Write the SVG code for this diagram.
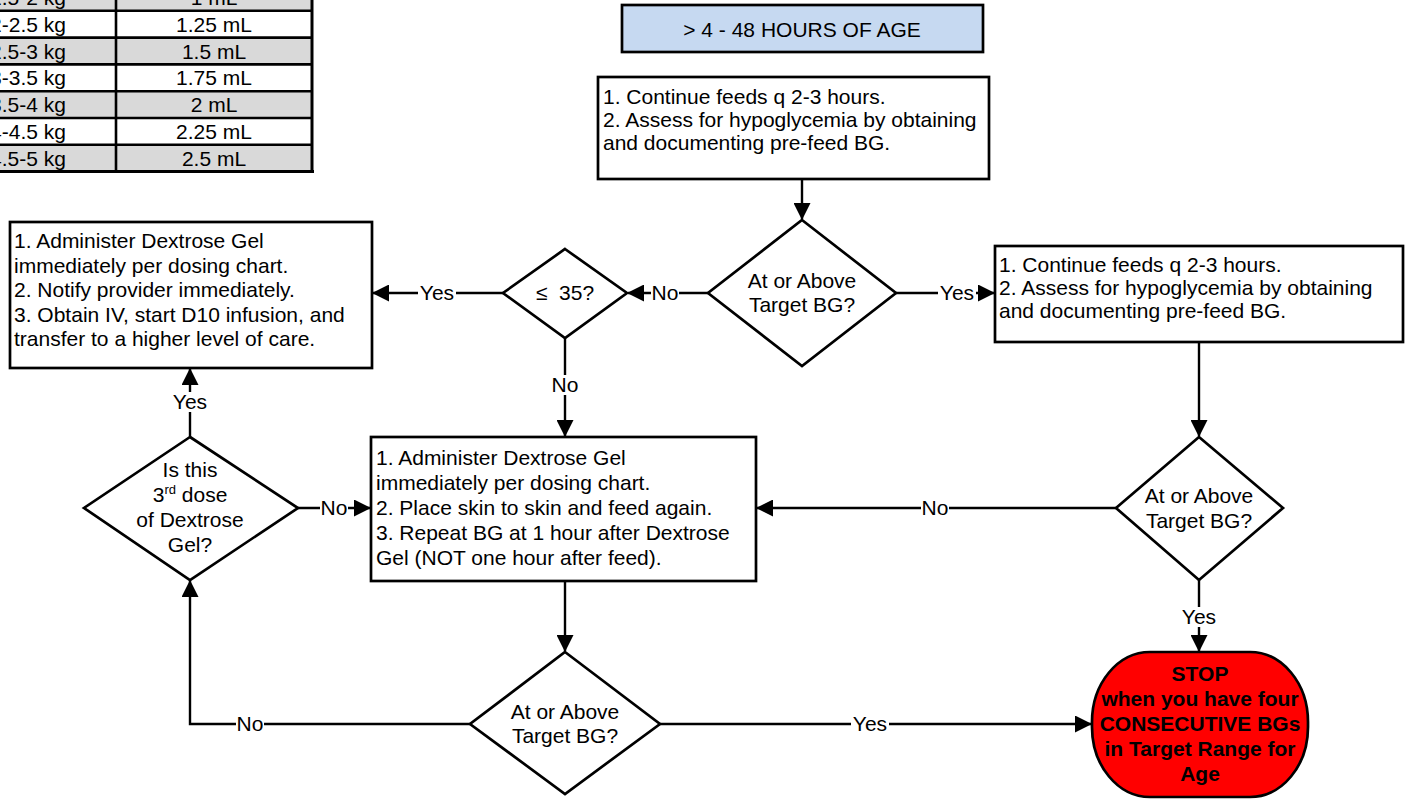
<svg xmlns="http://www.w3.org/2000/svg" width="1407" height="805" viewBox="0 0 1407 805">
<style>
text{font-family:"Liberation Sans",Arial,sans-serif;font-size:21px;fill:#000}
.c{text-anchor:middle}
.e{text-anchor:end}
.b{font-weight:bold}
.box{fill:#fff;stroke:#000;stroke-width:2.7}
.ln{fill:none;stroke:#000;stroke-width:2.4}
.lbl{fill:#fff;stroke:none}
.tl{stroke:#000;stroke-width:2.6}
</style>
<defs>
<marker id="ah" viewBox="0 0 17 17" refX="16" refY="8.5" markerWidth="17" markerHeight="17" markerUnits="userSpaceOnUse" orient="auto">
<path d="M0,0 L17,8.5 L0,17 z" fill="#000"/>
</marker>
</defs>
<rect width="1407" height="805" fill="#fff"/>

<g id="dosing-table">
<rect x="0" y="-20" width="313" height="30.8" fill="#d9d9d9"/>
<rect x="0" y="10.8" width="313" height="26.8" fill="#fff"/>
<rect x="0" y="37.6" width="313" height="26.8" fill="#d9d9d9"/>
<rect x="0" y="64.4" width="313" height="26.8" fill="#fff"/>
<rect x="0" y="91.2" width="313" height="26.8" fill="#d9d9d9"/>
<rect x="0" y="118" width="313" height="26.8" fill="#fff"/>
<rect x="0" y="144.8" width="313" height="26.8" fill="#d9d9d9"/>
<line class="tl" x1="0" y1="10.8" x2="313" y2="10.8"/>
<line class="tl" x1="0" y1="37.6" x2="313" y2="37.6"/>
<line class="tl" x1="0" y1="64.4" x2="313" y2="64.4"/>
<line class="tl" x1="0" y1="91.2" x2="313" y2="91.2"/>
<line class="tl" x1="0" y1="118" x2="313" y2="118"/>
<line class="tl" x1="0" y1="144.8" x2="313" y2="144.8"/>
<line x1="0" y1="171.6" x2="314" y2="171.6" stroke="#000" stroke-width="3"/>
<line class="tl" x1="116" y1="0" x2="116" y2="172"/>
<line x1="312" y1="0" x2="312" y2="173" stroke="#000" stroke-width="3"/>
<text class="e" x="66" y="5">1.5-2 kg</text>
<text class="e" x="66" y="31.8">2-2.5 kg</text>
<text class="e" x="66" y="58.6">2.5-3 kg</text>
<text class="e" x="66" y="85.4">3-3.5 kg</text>
<text class="e" x="66" y="112.2">3.5-4 kg</text>
<text class="e" x="66" y="139">4-4.5 kg</text>
<text class="e" x="66" y="165.8">4.5-5 kg</text>
<text class="c" x="214" y="5">1 mL</text>
<text class="c" x="214" y="31.8">1.25 mL</text>
<text class="c" x="214" y="58.6">1.5 mL</text>
<text class="c" x="214" y="85.4">1.75 mL</text>
<text class="c" x="214" y="112.2">2 mL</text>
<text class="c" x="214" y="139">2.25 mL</text>
<text class="c" x="214" y="165.8">2.5 mL</text>
</g>

<g id="header">
<rect x="622" y="5" width="361" height="47" fill="#c6d9f1" stroke="#000" stroke-width="2.7"/>
<text class="c" x="802" y="37">&gt; 4 - 48 HOURS OF AGE</text>
</g>

<g id="continue-feeds-1">
<rect class="box" x="598" y="77" width="391" height="102"/>
<text x="603" y="104">1. Continue feeds q 2-3 hours.</text>
<text x="603" y="127">2. Assess for hypoglycemia by obtaining</text>
<text x="603" y="150">and documenting pre-feed BG.</text>
</g>

<g id="target-bg-1">
<polygon class="box" points="802,220 896,293 802,366 708,293"/>
<text class="c" x="802" y="288">At or Above</text>
<text class="c" x="802" y="312">Target BG?</text>
</g>

<g id="le-35">
<polygon class="box" points="565,249 627,293 565,338 503,293"/>
<text class="c" x="565" y="300" xml:space="preserve">≤  35?</text>
</g>

<g id="transfer-box">
<rect class="box" x="10" y="222" width="362" height="146"/>
<text x="14" y="248">1. Administer Dextrose Gel</text>
<text x="14" y="272.5">immediately per dosing chart.</text>
<text x="14" y="297">2. Notify provider immediately.</text>
<text x="14" y="321.5">3. Obtain IV, start D10 infusion, and</text>
<text x="14" y="346">transfer to a higher level of care.</text>
</g>

<g id="continue-feeds-2">
<rect class="box" x="995" y="246" width="408" height="96"/>
<text x="999" y="272">1. Continue feeds q 2-3 hours.</text>
<text x="999" y="295">2. Assess for hypoglycemia by obtaining</text>
<text x="999" y="318">and documenting pre-feed BG.</text>
</g>

<g id="dextrose-gel-box">
<rect class="box" x="371" y="437" width="385" height="144"/>
<text x="376" y="465">1. Administer Dextrose Gel</text>
<text x="376" y="490">immediately per dosing chart.</text>
<text x="376" y="515">2. Place skin to skin and feed again.</text>
<text x="376" y="540">3. Repeat BG at 1 hour after Dextrose</text>
<text x="376" y="565">Gel (NOT one hour after feed).</text>
</g>

<g id="target-bg-2">
<polygon class="box" points="1199,437 1283,508 1199,580 1116,508"/>
<text class="c" x="1199" y="503">At or Above</text>
<text class="c" x="1199" y="528">Target BG?</text>
</g>

<g id="third-dose">
<polygon class="box" points="190,437 298,508 190,580 84,508"/>
<text class="c" x="190" y="477">Is this</text>
<text class="c" x="190" y="502">3<tspan font-size="13" dy="-8">rd</tspan><tspan dy="8"> dose</tspan></text>
<text class="c" x="190" y="527">of Dextrose</text>
<text class="c" x="190" y="552">Gel?</text>
</g>

<g id="target-bg-3">
<polygon class="box" points="565,652 660,724 565,794 470,724"/>
<text class="c" x="565" y="719">At or Above</text>
<text class="c" x="565" y="743">Target BG?</text>
</g>

<g id="stop">
<rect x="1092" y="652" width="216" height="145" rx="58" ry="70" fill="#ff0000" stroke="#000" stroke-width="2.7"/>
<text class="c b" x="1200" y="681">STOP</text>
<text class="c b" x="1200" y="706">when you have four</text>
<text class="c b" x="1200" y="731">CONSECUTIVE BGs</text>
<text class="c b" x="1200" y="756">in Target Range for</text>
<text class="c b" x="1200" y="781">Age</text>
</g>

<g id="connectors">
<path class="ln" d="M802,180 V219" marker-end="url(#ah)"/>
<path class="ln" d="M708,293 H628" marker-end="url(#ah)"/>
<path class="ln" d="M503,293 H373" marker-end="url(#ah)"/>
<path class="ln" d="M896,293 H994" marker-end="url(#ah)"/>
<path class="ln" d="M565,338 V436" marker-end="url(#ah)"/>
<path class="ln" d="M1199,343 V436" marker-end="url(#ah)"/>
<path class="ln" d="M1116,508 H757" marker-end="url(#ah)"/>
<path class="ln" d="M1199,580 V651" marker-end="url(#ah)"/>
<path class="ln" d="M565,582 V651" marker-end="url(#ah)"/>
<path class="ln" d="M660,724 H1091" marker-end="url(#ah)"/>
<path class="ln" d="M470,724 H190 V581" marker-end="url(#ah)"/>
<path class="ln" d="M298,508 H370" marker-end="url(#ah)"/>
<path class="ln" d="M190,437 V369" marker-end="url(#ah)"/>
<rect class="lbl" x="651" y="283" width="28" height="20"/>
<text class="c" x="665" y="300">No</text>
<rect class="lbl" x="418" y="283" width="38" height="20"/>
<text class="c" x="437" y="300">Yes</text>
<rect class="lbl" x="938" y="283" width="38" height="20"/>
<text class="c" x="957" y="300">Yes</text>
<rect class="lbl" x="551" y="375" width="28" height="20"/>
<text class="c" x="565" y="392">No</text>
<rect class="lbl" x="921" y="498" width="28" height="20"/>
<text class="c" x="935" y="515">No</text>
<rect class="lbl" x="1180" y="607" width="38" height="20"/>
<text class="c" x="1199" y="624">Yes</text>
<rect class="lbl" x="851" y="714" width="38" height="20"/>
<text class="c" x="870" y="731">Yes</text>
<rect class="lbl" x="236" y="714" width="28" height="20"/>
<text class="c" x="250" y="731">No</text>
<rect class="lbl" x="320" y="498" width="28" height="20"/>
<text class="c" x="334" y="515">No</text>
<rect class="lbl" x="171" y="392" width="38" height="20"/>
<text class="c" x="190" y="409">Yes</text>
</g>
</svg>
